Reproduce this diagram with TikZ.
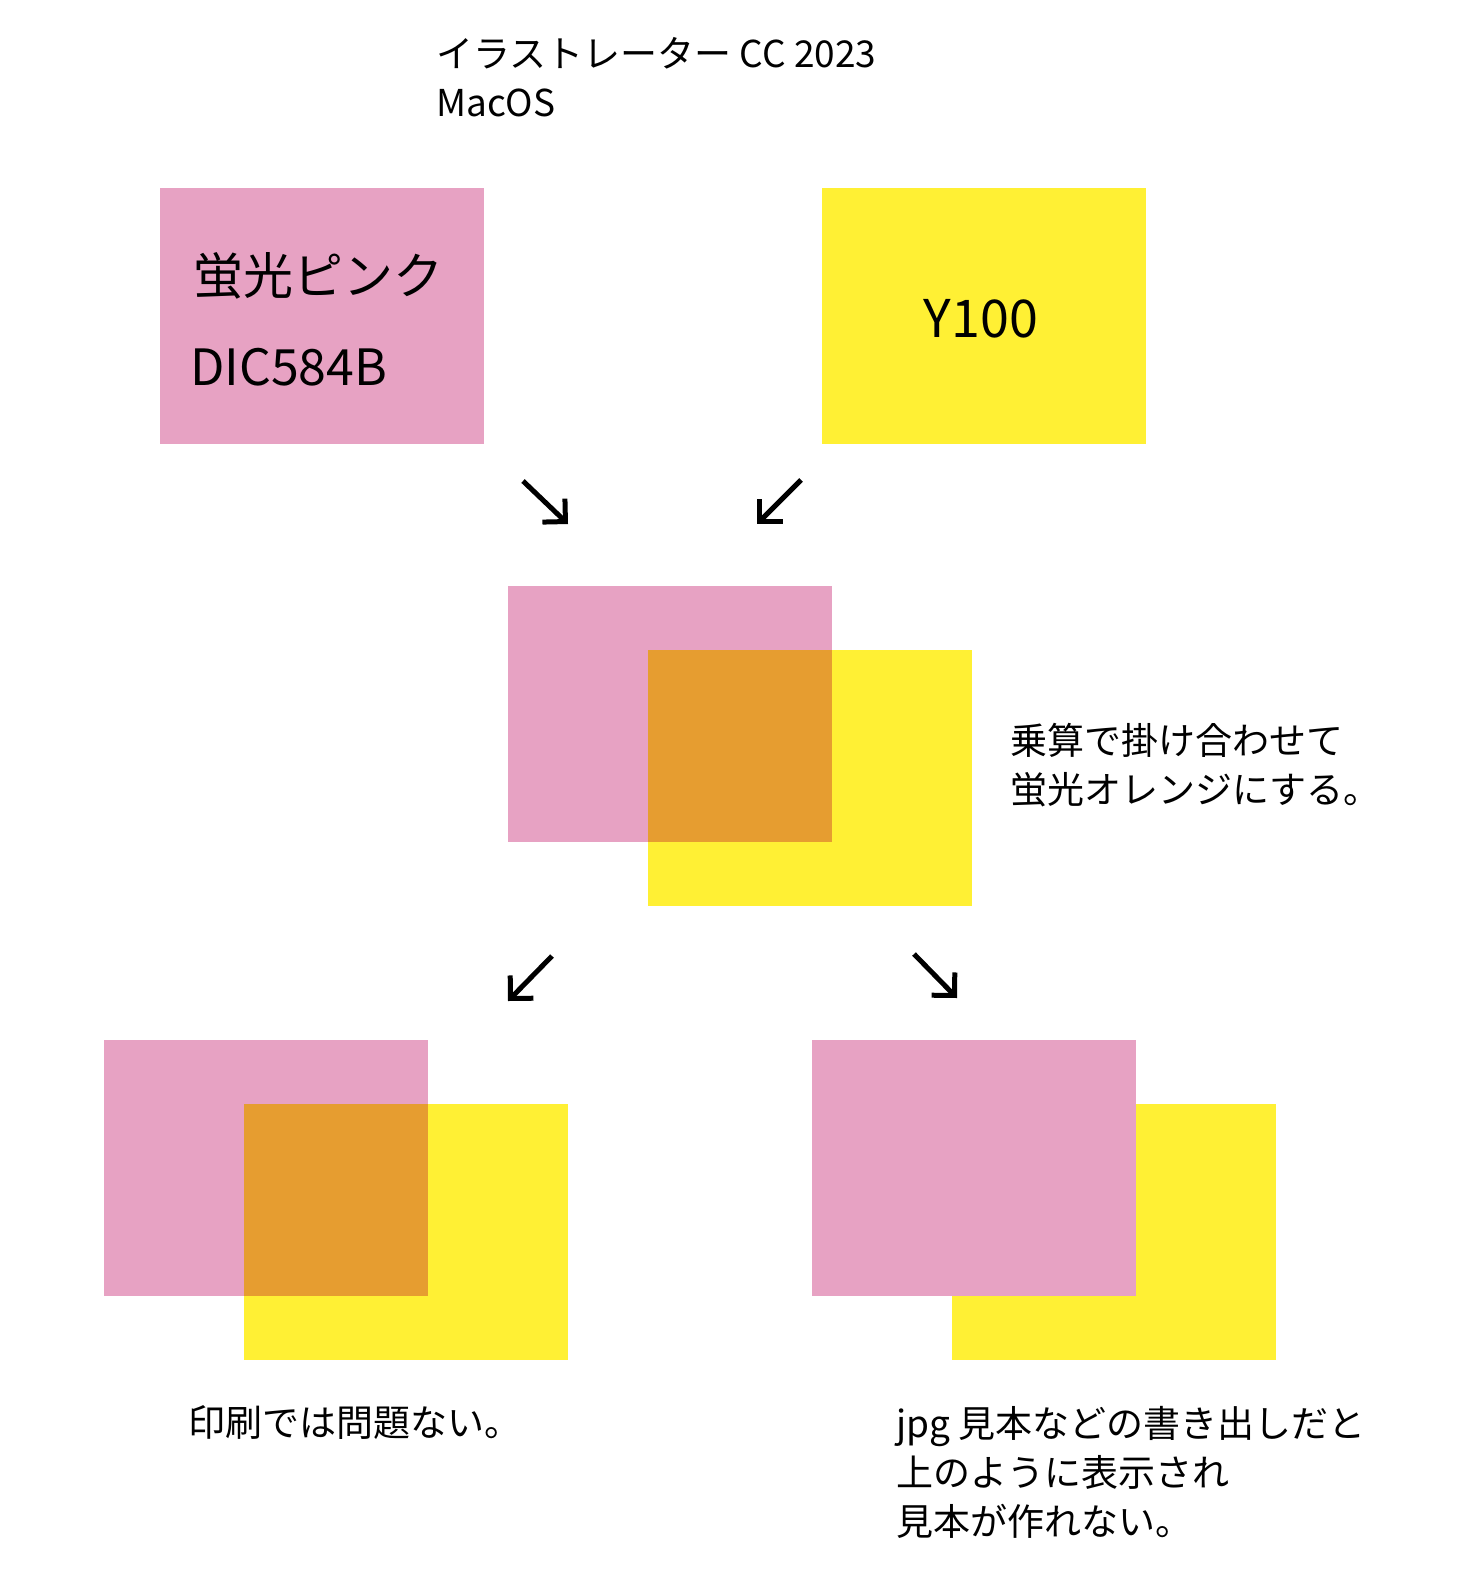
\documentclass[tikz,border=0pt]{standalone}
\usepackage{fontspec}
\setmainfont{Noto Sans CJK JP}
\usetikzlibrary{arrows.meta}

\definecolor{flpink}{HTML}{E7A2C3}
\definecolor{flyellow}{HTML}{FFF034}
\definecolor{mixorange}{HTML}{E69D30}

\tikzset{
  pinkbox/.style={fill=flpink, minimum width=324pt, minimum height=256pt, inner sep=0pt},
  yellowbox/.style={fill=flyellow, minimum width=324pt, minimum height=256pt, inner sep=0pt},
  note/.style={anchor=west, inner sep=0pt, align=left, font=\fontsize{37}{49}\selectfont},
  boxtext/.style={anchor=west, inner sep=0pt, font=\fontsize{50}{60}\selectfont},
  flow/.style={line width=5pt, -{Straight Barb[angle=90:23pt]}}
}

\begin{document}
\begin{tikzpicture}[x=1pt, y=-1pt]
  \fill[white] (0,0) rectangle (1476,1588);
  \useasboundingbox (0,0) rectangle (1476,1588);

  \node[note] (title) at (436,77) {イラストレーター CC 2023\\MacOS};

  % source colours
  \node[pinkbox] (pink) at (322,316) {};
  \node[boxtext] (pinkname) at (193,276) {蛍光ピンク};
  \node[boxtext] (pinkcode) at (190,367) {DIC584B};
  \node[yellowbox] (yellow) at (984,316) {};
  \node[boxtext, anchor=center, font=\fontsize{52}{60}\selectfont] (ycode) at (981,319) {Y100};

  \coordinate (a1s) at (523,481);
  \coordinate (a1e) at (568,524);
  \coordinate (a2s) at (801,480);
  \coordinate (a2e) at (757,524);
  \draw[flow] (a1s) -- (a1e);
  \draw[flow] (a2s) -- (a2e);

  % multiply
  \node[pinkbox] (pm) at (670,714) {};
  \node[yellowbox] (ym) at (810,778) {};
  \fill[mixorange] (ym.north west) rectangle (pm.south east);
  \node[note] (mulnote) at (1010,765) {乗算で掛け合わせて\\蛍光オレンジにする。};

  \coordinate (b1s) at (552,956);
  \coordinate (b1e) at (508,1001);
  \coordinate (b2s) at (914,954);
  \coordinate (b2e) at (957,998);
  \draw[flow] (b1s) -- (b1e);
  \draw[flow] (b2s) -- (b2e);

  % print
  \node[pinkbox] (pl) at (266,1168) {};
  \node[yellowbox] (yl) at (406,1232) {};
  \fill[mixorange] (yl.north west) rectangle (pl.south east);
  \node[note] (printnote) at (188,1423) {印刷では問題ない。};

  % jpg export
  \node[yellowbox] (yr) at (1114,1232) {};
  \node[pinkbox] (pr) at (974,1168) {};
  \node[note] (jpgnote) at (896,1472) {jpg 見本などの書き出しだと\\上のように表示され\\見本が作れない。};
\end{tikzpicture}
\end{document}
